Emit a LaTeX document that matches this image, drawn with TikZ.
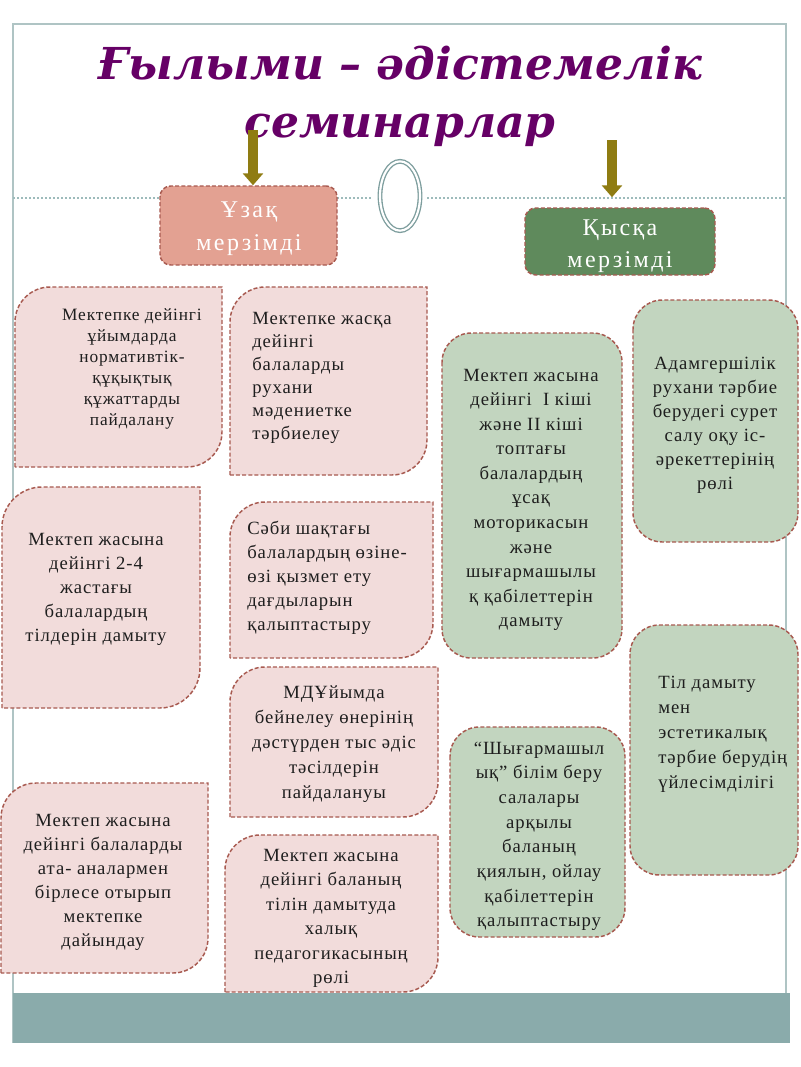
\documentclass[tikz,border=0pt]{standalone}
\usepackage{fontspec}
\setmainfont{Liberation Serif}
\newfontfamily\bodyfont{Liberation Serif}[LetterSpace=5]
\newfontfamily\headfont{Liberation Serif}[LetterSpace=10]
\newfontfamily\titlefont{DejaVu Serif}
\usetikzlibrary{arrows.meta}
\definecolor{titlec}{HTML}{660066}
\definecolor{pinkfill}{HTML}{F2DCDB}
\definecolor{greenfill}{HTML}{C2D5BF}
\definecolor{dashc}{HTML}{A85A50}
\definecolor{salmon}{HTML}{E3A192}
\definecolor{darkgreen}{HTML}{5F8A5C}
\definecolor{olivec}{HTML}{8F7C12}
\definecolor{framec}{HTML}{AFC4C4}
\definecolor{bandc}{HTML}{8AABAB}
\definecolor{ringc}{HTML}{7E9E9E}
\definecolor{dotc}{HTML}{9DBBBB}
\definecolor{textc}{HTML}{1E1E1E}
\tikzset{
  boxline/.style={draw=dashc, line width=1.1pt, dash pattern=on 3pt off 1.6pt},
  pinkbox/.style={boxline, fill=pinkfill},
  greenbox/.style={boxline, fill=greenfill, rounded corners=22pt},
  txt/.style={inner sep=0pt, text=textc, font=\bodyfont\fontsize{14}{18}\selectfont,
    execute at begin node=\strut, execute at end node=\strut},
  ctxt/.style={txt, align=center},
  ltxt/.style={txt, align=left, anchor=west},
  headbox/.style={boxline, rounded corners=8pt, inner sep=0pt},
  headtxt/.style={text=white, align=center, inner sep=0pt,
    font=\headfont\fontsize{18}{24.5}\selectfont,
    execute at begin node=\strut, execute at end node=\strut},
  olivearrow/.style={draw=olivec, line width=7pt, -{Triangle[width=15pt,length=9pt]}},
}
\newcommand\diagshape[5]{\draw[pinkbox] (#1,#4) -- (#1,#2+#5) .. controls (#1,#2+0.45*#5) and (#1+0.45*#5,#2) .. (#1+#5,#2) -- (#3,#2) -- (#3,#4-#5) .. controls (#3,#4-0.45*#5) and (#3-0.45*#5,#4) .. (#3-#5,#4) -- cycle;}
\begin{document}
\begin{tikzpicture}[x=0.75pt,y=-0.75pt]
\useasboundingbox[fill=white] (0,0) rectangle (800,1067);
% frame
\draw[framec, line width=1.2pt] (13,1043) -- (13,24) -- (786,24) -- (786,1043);
\fill[bandc] (13,993) rectangle (790,1043);
\draw[dotc, line width=1.5pt, dash pattern=on 1.5pt off 1.5pt] (13,198) -- (373,198) (427,198) -- (786,198);
\draw[ringc, line width=1pt, double=white, double distance=1.6pt] (400,196) ellipse [x radius=15pt, y radius=26pt];
% title
\node[font=\titlefont\bfseries\itshape\fontsize{33}{43.5}\selectfont, text=titlec, align=center, inner sep=0pt,
  execute at begin node=\strut, execute at end node=\strut] (title) at (400,100) {Ғылыми – әдістемелік\\семинарлар};
% headers
\node[headbox, fill=salmon, minimum width=132.75pt, minimum height=59.25pt] (long) at (248.5,225.5) {};
\node[headtxt] (longt) at (249,231) {Ұзақ\\мерзімді};
\node[headbox, fill=darkgreen, minimum width=142.5pt, minimum height=50.25pt] (short) at (620,241.5) {};
\node[headtxt] (shortt) at (620,248.5) {Қысқа\\мерзімді};
\coordinate (aL) at (253,130);
\coordinate (aR) at (612,140);
\draw[olivearrow] (aL) -- (aL |- long.north);
\draw[olivearrow, shorten >=7.5pt] (aR) -- (aR |- short.north);
% pink boxes
\diagshape{15}{287}{222}{467}{35}
\node[ctxt, font=\bodyfont\fontsize{13}{15.75}\selectfont] (b1) at (132,370) {Мектепке дейінгі\\ұйымдарда\\нормативтік-\\құқықтық\\құжаттарды\\пайдалану};
\diagshape{230}{287}{427}{475}{35}
\node[ltxt, font=\bodyfont\fontsize{14}{17.25}\selectfont] (b2) at (252,379) {Мектепке жасқа\\дейінгі\\балаларды\\рухани\\мәдениетке\\тәрбиелеу};
\diagshape{2}{487}{200}{708}{40}
\node[ctxt] (b3) at (96,591) {Мектеп жасына\\дейінгі 2-4\\жастағы\\балалардың\\тілдерін дамыту};
\diagshape{230}{502}{433}{658}{35}
\node[ltxt] (b4) at (247,579) {Сәби шақтағы\\балалардың өзіне-\\өзі қызмет ету\\дағдыларын\\қалыптастыру};
\diagshape{230}{667}{438}{817}{35}
\node[ctxt, font=\bodyfont\fontsize{14}{18.75}\selectfont] (b5) at (334,746) {МДҰйымда\\бейнелеу өнерінің\\дәстүрден тыс әдіс\\тәсілдерін\\пайдалануы};
\diagshape{1}{783}{208}{973}{35}
\node[ctxt] (b6) at (103,884) {Мектеп жасына\\дейінгі балаларды\\ата- аналармен\\бірлесе отырып\\мектепке\\дайындау};
\diagshape{225}{835}{438}{992}{35}
\node[ctxt, font=\bodyfont\fontsize{14}{18.3}\selectfont] (b7) at (331,920) {Мектеп жасына\\дейінгі баланың\\тілін дамытуда\\халық\\педагогикасының\\рөлі};
% green boxes
\draw[greenbox] (442,333) rectangle (622,658);
\node[ctxt, font=\bodyfont\fontsize{14}{18.4}\selectfont] (g1) at (531,501.5) {Мектеп жасына\\дейінгі~ I кіші\\және II кіші\\топтағы\\балалардың\\ұсақ\\моторикасын\\және\\шығармашылы\\қ қабілеттерін\\дамыту};
\draw[greenbox] (633,300) rectangle (798,542);
\node[ctxt] (g2) at (715,426.5) {Адамгершілік\\рухани тәрбие\\берудегі сурет\\салу оқу іс-\\әрекеттерінің\\рөлі};
\draw[greenbox] (630,625) rectangle (798,875);
\node[ltxt, font=\bodyfont\fontsize{14}{18.75}\selectfont] (g3) at (658,736.5) {Тіл дамыту\\мен\\эстетикалық\\тәрбие берудің\\үйлесімділігі};
\draw[greenbox] (450,727) rectangle (625,937);
\node[ctxt, font=\bodyfont\fontsize{14}{18.5}\selectfont] (g4) at (539,838) {“Шығармашыл\\ық” білім беру\\салалары\\арқылы\\баланың\\қиялын, ойлау\\қабілеттерін\\қалыптастыру};
\end{tikzpicture}
\end{document}
